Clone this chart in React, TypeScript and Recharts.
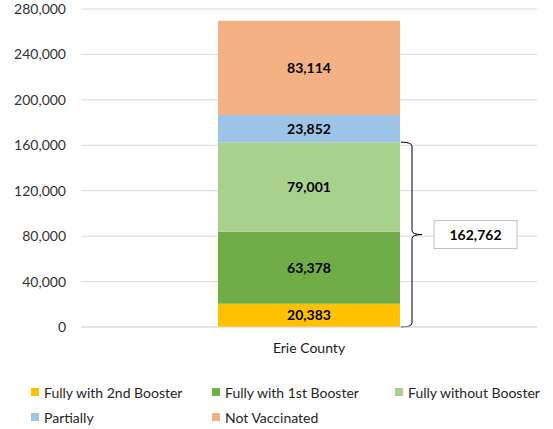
import { BarChart, Bar, CartesianGrid, LabelList, ReferenceArea, XAxis, YAxis } from "recharts";

const categories = ["Erie County"];
const seriesNames = [
  "Fully with 2nd Booster",
  "Fully with 1st Booster",
  "Fully without Booster",
  "Partially",
  "Not Vaccinated",
];
const seriesColors = ["#FFC000", "#70AD47", "#A9D18E", "#9DC3E6", "#F4B183"];
const fullyWith2nd = [20383];
const fullyWith1st = [63378];
const fullyWithout = [79001];
const partially = [23852];
const notVaccinated = [83114];
const yTicks = [0, 40000, 80000, 120000, 160000, 200000, 240000, 280000];

const seriesValues = [fullyWith2nd, fullyWith1st, fullyWithout, partially, notVaccinated];
const data = categories.map((name, i) => {
  const row: Record<string, any> = { name };
  seriesNames.forEach((s, k) => (row[s] = seriesValues[k][i]));
  return row;
});
// fully vaccinated = first three series
const fullyTotal = fullyWith2nd[0] + fullyWith1st[0] + fullyWithout[0];

const FONT = "Lato, 'Noto Sans', sans-serif";
const BAR_SIZE = 182;
const fmt = (v: number) => v.toLocaleString("en-US");

function Bracket(props: any) {
  const { x, y, width, height } = props;
  const left = x + width / 2 + BAR_SIZE / 2 + 1;
  const vx = left + 11;
  const top = y;
  const bot = y + height;
  const mid = (top + bot) / 2;
  const d = `M${left},${top} Q${vx},${top} ${vx},${top + 4} L${vx},${mid - 4} Q${vx},${mid} ${vx + 10},${mid} Q${vx},${mid} ${vx},${mid + 4} L${vx},${bot - 4} Q${vx},${bot} ${left},${bot}`;
  const bx = vx + 22;
  return (
    <g>
      <path d={d} fill="none" stroke="#000" strokeWidth={1} />
      <rect x={bx} y={mid - 14} width={83} height={28} fill="#fff" stroke="#bfbfbf" />
      <text
        x={bx + 41.5}
        y={mid}
        textAnchor="middle"
        dominantBaseline="central"
        fontFamily={FONT}
        fontWeight="bold"
        fontSize={14}
        fill="#000"
      >
        {fmt(fullyTotal)}
      </text>
    </g>
  );
}

const legendRows = [
  [0, 1, 2],
  [3, 4],
];
const legendCols = [31, 212, 395];

export default function App() {
  return (
    <div style={{ position: "absolute", left: 0, top: 0, width: 553, height: 429, background: "#fff", fontFamily: FONT }}>
      <BarChart
        width={553}
        height={429}
        data={data}
        margin={{ top: 9, right: 16, bottom: 72, left: 0 }}
        barSize={BAR_SIZE}
      >
        <CartesianGrid vertical={false} stroke="#d9d9d9" />
        <XAxis
          dataKey="name"
          axisLine={{ stroke: "#d9d9d9" }}
          tickLine={false}
          tickMargin={10}
          height={30}
          tick={{ fontSize: 14, fill: "#1a1a1a", fontFamily: FONT }}
        />
        <YAxis
          width={81}
          domain={[0, 280000]}
          ticks={yTicks}
          axisLine={false}
          tickLine={false}
          tickMargin={9}
          tickFormatter={fmt}
          tick={{ fontSize: 14, fill: "#333", fontFamily: FONT }}
        />
        {seriesNames.map((s, k) => (
          <Bar key={s} dataKey={s} stackId="a" fill={seriesColors[k]} isAnimationActive={false}>
            <LabelList
              dataKey={s}
              position="center"
              formatter={(v: any) => fmt(Number(v))}
              style={{ fontSize: 14, fontWeight: "bold", fill: "#000", fontFamily: FONT }}
            />
          </Bar>
        ))}
        <ReferenceArea y1={0} y2={fullyTotal} fill="none" stroke="none" shape={<Bracket />} />
      </BarChart>
      {legendRows.map((row, r) =>
        row.map((k, c) => (
          <div
            key={seriesNames[k]}
            style={{
              position: "absolute",
              left: legendCols[c],
              top: 383 + r * 25,
              height: 18,
              display: "flex",
              alignItems: "center",
              fontSize: 14,
              color: "#262626",
              whiteSpace: "nowrap",
            }}
          >
            <span style={{ display: "inline-block", width: 8, height: 8, background: seriesColors[k], marginRight: 5 }} />
            {seriesNames[k]}
          </div>
        ))
      )}
    </div>
  );
}
